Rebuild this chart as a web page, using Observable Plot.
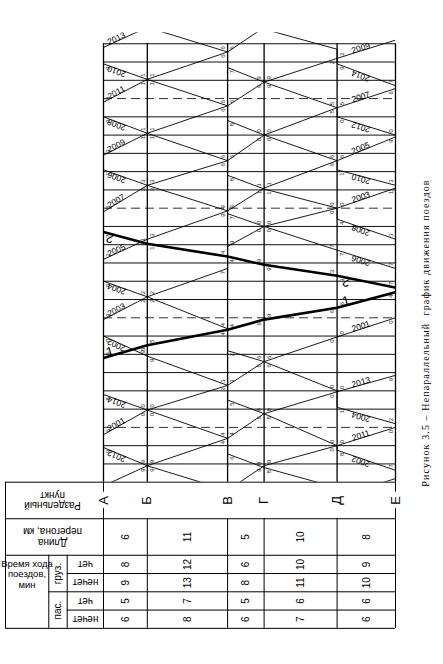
<!DOCTYPE html>
<html><head><meta charset="utf-8">
<script src="https://cdn.jsdelivr.net/npm/d3@7"></script>
<script src="https://cdn.jsdelivr.net/npm/@observablehq/plot@0.6"></script>
<style>
body{margin:0;background:#fff;}
#wrap{position:relative;width:443px;height:664px;overflow:hidden;background:#fff;}
#chart{position:absolute;left:0;top:0;}
#caption{position:absolute;left:425px;top:333px;transform:translate(-50%,-50%) rotate(-90deg);white-space:pre;font-family:"Liberation Serif","DejaVu Serif",serif;font-size:10px;color:#000;}
</style></head>
<body><div id="wrap"><div id="chart"></div><div id="caption">Рисунок 3.5 – Непараллельный  график движения поездов</div></div>
<script>
// ---------------- DATA ----------------
const stations = ["А","Б","В","Г","Д","Е"];
const stationKm = [0, 6, 17, 22, 32, 40];
const stretchKm = [6, 11, 5, 10, 8];
const freightEven = [8, 12, 6, 10, 9];
const freightOdd = [9, 13, 8, 11, 10];
const passEven = [5, 7, 5, 6, 6];
const passOdd = [6, 8, 6, 7, 6];
const gridMinutes = d3.range(0, 241, 10);
const halfHourMinutes = [30, 90, 150, 210];

// train paths: [station index, minute] in order of travel (minutes from start of the 4-hour window)
const train2001 = [[0,26],[1,39.5],[2,53],[3,66],[4,79.5],[5,90]];
const train2003 = [[0,89],[1,101.5],[2,117],[2,129],[3,140],[4,150],[5,161]];
const train2005 = [[0,122],[1,133],[2,148.5],[3,161],[4,176],[5,189]];
const train2007 = [[0,148],[1,162.5],[2,176],[3,190],[4,205],[5,215.5]];
const train2009 = [[0,179],[1,191],[2,206],[3,219],[4,232],[5,242]];
const train2011 = [[0,208],[1,220.5],[2,235.5],[3,249],[4,260],[5,270]];
const train2013 = [[0,-2],[1,9],[2,24],[3,37.5],[4,49.5],[5,58.5]];
const train1 = [[0,68],[1,75],[2,83.5],[3,89],[4,95.5],[5,104]];

const train2002 = [[5,6.5],[4,17.5],[4,20],[3,37.5],[2,45],[2,53],[1,69],[0,80]];
const train2004 = [[5,32],[4,41],[4,50],[3,66],[2,72],[2,84],[1,101.5],[0,110]];
const train2006 = [[5,117],[4,127],[3,140],[2,147],[2,148.5],[1,162.5],[0,171]];
const train2008 = [[5,133],[4,144],[4,150],[3,160.5],[2,168],[2,176],[1,191],[0,200]];
const train2010 = [[5,162.5],[4,171],[4,176],[3,190],[2,198],[2,206],[1,220.5],[0,229]];
const train2012 = [[5,190],[4,200],[4,205],[3,219],[2,227],[2,235.5],[1,249],[0,259]];
const train2014 = [[5,217],[4,229],[4,237],[3,248],[2,255.5],[2,264],[1,279.5],[0,288]];
const train2 = [[5,106.5],[4,113],[3,119],[2,123.5],[1,130.5],[0,137]];

const trains = [
  {label:"2001", pts:train2001}, {label:"2003", pts:train2003}, {label:"2005", pts:train2005},
  {label:"2007", pts:train2007}, {label:"2009", pts:train2009}, {label:"2011", pts:train2011},
  {label:"2013", pts:train2013},
  {label:"2002", pts:train2002}, {label:"2004", pts:train2004}, {label:"2006", pts:train2006},
  {label:"2008", pts:train2008}, {label:"2010", pts:train2010}, {label:"2012", pts:train2012},
  {label:"2014", pts:train2014},
  {label:"1", pts:train1, bold:true}, {label:"2", pts:train2, bold:true}
];

// ---------------- LAYOUT ----------------
const W = 443, H = 664;
const mL = 103, mR = 48, mT = 32.3, mB = 182.3;
const yTop = 246;
const xs = d3.scaleLinear([0, 40], [mL, W - mR]);
const ys = d3.scaleLinear([0, yTop], [H - mB, mT]);
const sans = "'Liberation Sans', Arial, sans-serif";
const L = xs.invert(5), colB = xs.invert(48.3), colC = xs.invert(66.7);
const shifts = [-240, 0, 240];

// train lines (drawn also shifted by one 4-hour cycle, clipped to the frame)
const lineData = [];
for (const tr of trains) for (const s of shifts)
  for (const [st, t] of tr.pts) lineData.push({key: tr.label + "_" + s, km: stationKm[st], t: t + s, bold: !!tr.bold});

// minute digits in the angle between the train line and the station axis
const dKm = 4.6 / (xs(1) - xs(0)), dT = 4.2 / (ys(0) - ys(1));
const digits = [];
for (const tr of trains) {
  const p = tr.pts;
  for (let i = 0; i < p.length; i++) {
    const [st, t] = p[i];
    const nb = [];
    if (i > 0 && p[i - 1][0] !== st) nb.push(p[i - 1]);
    if (i < p.length - 1 && p[i + 1][0] !== st) nb.push(p[i + 1]);
    for (const q of nb) {
      const sx = Math.sign(stationKm[q[0]] - stationKm[st]);
      const sy = Math.sign(q[1] - t);
      const d = String(((Math.round(t) % 10) + 10) % 10);
      for (const s of shifts) {
        const tt = t + s + sy * dT;
        if (tt > 2 && tt < 239) digits.push({km: stationKm[st] + sx * dKm, t: tt, text: d});
      }
    }
  }
}

// train number labels
function labelFor(tr, col, f) {
  const p = tr.pts;
  for (let i = 0; i < p.length - 1; i++) {
    const a = p[i], b = p[i + 1];
    if (a[0] === b[0]) continue;
    if (Math.min(a[0], b[0]) === col && Math.max(a[0], b[0]) === col + 1) {
      const kA = stationKm[a[0]], kB = stationKm[b[0]];
      const km = stationKm[col] + f * (stationKm[col + 1] - stationKm[col]);
      const u = (km - kA) / (kB - kA);
      let t = a[1] + u * (b[1] - a[1]);
      const ang = Math.atan2(ys(b[1]) - ys(a[1]), xs(kB) - xs(kA)) * 180 / Math.PI;
      while (t < 4) t += 240;
      while (t > 244) t -= 240;
      return {km, t, rotate: ang, text: tr.label, bold: !!tr.bold};
    }
  }
  return null;
}
const labels = [];
for (const tr of trains) {
  if (tr.bold) {
    labels.push(labelFor(tr, 0, 0.17));
    labels.push(labelFor(tr, 4, 0.17));
  } else {
    labels.push(labelFor(tr, 0, 0.32));
    labels.push(labelFor(tr, 4, 0.42));
  }
}
const numLabels = labels.filter(d => d && !d.bold);
const boldLabels = labels.filter(d => d && d.bold);

// table
const mids = stretchKm.map((d, i) => stationKm[i] + d / 2);
const hLines = [
  {t: 0, x1: L, x2: 0}, {t: -20, x1: L, x2: 40}, {t: -40, x1: L, x2: 40},
  {t: -50, x1: colC, x2: 40}, {t: -60, x1: colB, x2: 40}, {t: -70, x1: colC, x2: 40},
  {t: -80, x1: L, x2: 40}
];
const vLines = [
  {x: L, y1: 0, y2: -80}, {x: colB, y1: -40, y2: -80}, {x: colC, y1: -40, y2: -80},
  ...stationKm.map(k => ({x: k, y1: -20, y2: -80})),
  {x: 0, y1: 0, y2: -5.5}, {x: 0, y1: -14.5, y2: -20},
  {x: 40, y1: 0, y2: -5.5}, {x: 40, y1: -14.5, y2: -20}
];
const rowValues = [
  {t: -30, vals: stretchKm}, {t: -45, vals: freightEven}, {t: -55, vals: freightOdd},
  {t: -65, vals: passEven}, {t: -75, vals: passOdd}
];
const cellTexts = rowValues.flatMap(r => r.vals.map((v, i) => ({km: mids[i], t: r.t, text: String(v)})));
const headUpside = [
  {km: xs.invert(52), t: -10, text: "Раздельный\nпункт"},
  {km: xs.invert(52), t: -30, text: "Длина\nперегона, км"},
  {km: xs.invert(85), t: -45, text: "чет"},
  {km: xs.invert(85), t: -55, text: "нечет"},
  {km: xs.invert(85), t: -65, text: "чет"},
  {km: xs.invert(85), t: -75, text: "нечет"}
];
const headSide = [
  {km: xs.invert(57.5), t: -50, text: "груз."},
  {km: xs.invert(57.5), t: -70, text: "пас."}
];

const chart = Plot.plot({
  width: W, height: H,
  marginLeft: mL, marginRight: mR, marginTop: mT, marginBottom: mB,
  x: {domain: [0, 40], axis: null},
  y: {domain: [0, yTop], axis: null},
  style: {background: "white", color: "black", fontFamily: sans, overflow: "visible"},
  marks: [
    Plot.ruleY(gridMinutes.filter(m => !halfHourMinutes.includes(m)), {y: d => d, x1: 0, x2: 40, stroke: "#111", strokeWidth: 1}),
    Plot.ruleY(halfHourMinutes, {y: d => d, x1: 0, x2: 40, stroke: "#333", strokeWidth: 1, strokeDasharray: "9,5"}),
    Plot.ruleX(stationKm, {x: d => d, y1: 0, y2: 240, stroke: "#000", strokeWidth: 1.3}),
    Plot.line(lineData.filter(d => !d.bold), {x: "km", y: "t", z: "key", stroke: "#000", strokeWidth: 0.9, clip: true}),
    Plot.line(lineData.filter(d => d.bold), {x: "km", y: "t", z: "key", stroke: "#000", strokeWidth: 2.6, clip: true}),
    Plot.text(digits, {x: "km", y: "t", text: "text", rotate: -90, fontSize: 6, fontFamily: sans, fill: "#222"}),
    Plot.text(numLabels, {x: "km", y: "t", text: "text", rotate: "rotate", lineAnchor: "bottom", fontSize: 8.5, fontFamily: sans, fill: "#000"}),
    Plot.text(boldLabels, {x: "km", y: "t", text: "text", rotate: "rotate", lineAnchor: "bottom", fontSize: 13, fontFamily: sans, fill: "#000"}),
    // table
    Plot.ruleY(hLines, {y: "t", x1: "x1", x2: "x2", stroke: "#000", strokeWidth: 1}),
    Plot.ruleX(vLines, {x: "x", y1: "y1", y2: "y2", stroke: "#000", strokeWidth: 1}),
    Plot.text(stations, {x: (d, i) => stationKm[i], y: () => -10, text: d => d, rotate: -90, fontSize: 13, fontFamily: sans, fill: "#000"}),
    Plot.text(cellTexts, {x: "km", y: "t", text: "text", rotate: -90, fontSize: 10, fontFamily: sans, fill: "#000"}),
    Plot.text(headUpside, {x: "km", y: "t", text: "text", rotate: 180, fontSize: 10, lineHeight: 1.05, fontFamily: sans, fill: "#000"}),
    Plot.text(headSide, {x: "km", y: "t", text: "text", rotate: -90, fontSize: 10, fontFamily: sans, fill: "#000"}),
    Plot.text(["Время хода\nпоездов,\nмин"], {x: () => xs.invert(26.5), y: () => -42.3, text: d => d, lineAnchor: "top", lineHeight: 1.1, fontSize: 9.5, fontFamily: sans, fill: "#000"})
  ]
});
document.getElementById("chart").appendChild(chart);

// stretch caption to the reference length
const cap = document.getElementById("caption");
const txt = cap.textContent;
const w0 = cap.offsetWidth;
cap.style.letterSpacing = ((307 - w0) / txt.length) + "px";
</script>
</body></html>
